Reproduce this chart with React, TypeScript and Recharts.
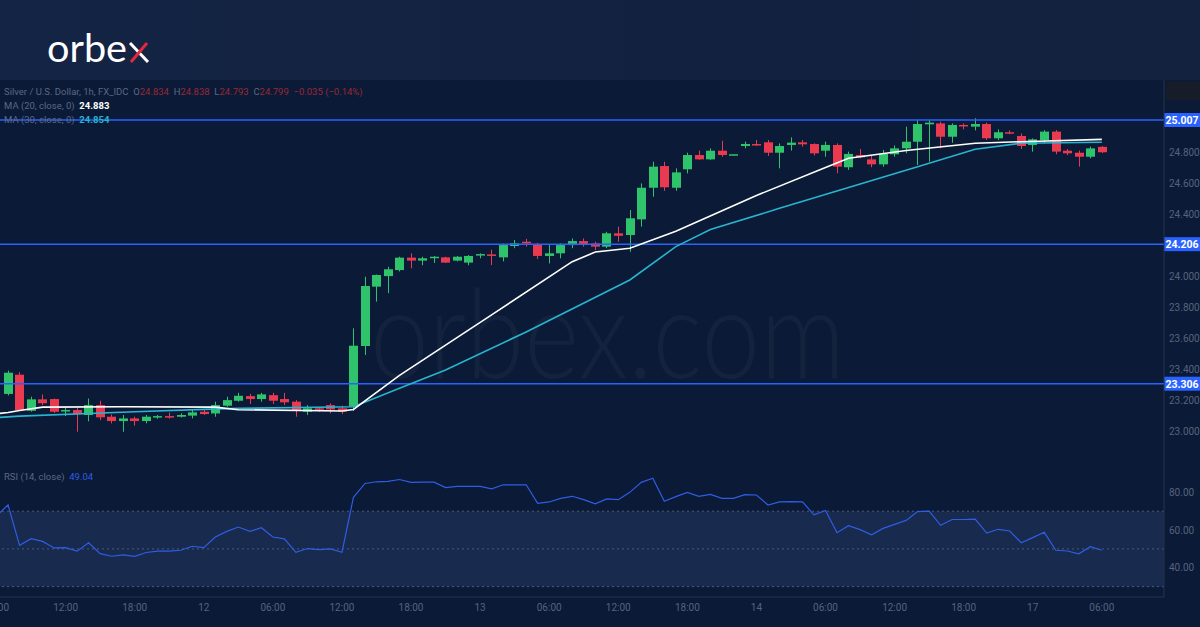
import React from 'react';
import { ComposedChart, Bar, Line, XAxis, YAxis, ReferenceLine, ReferenceArea } from 'recharts';

// hourly candles, index 0 = 11th 07:00
const opens = [
  23.24, 23.364, 23.131, 23.205, 23.207, 23.13, 23.136, 23.104, 23.168, 23.093,
  23.065, 23.082, 23.065, 23.089, 23.097, 23.093, 23.1, 23.125, 23.114, 23.164,
  23.196, 23.226, 23.207, 23.232, 23.207, 23.19, 23.125, 23.147, 23.168, 23.147,
  23.158, 23.549, 23.932, 24.0, 24.039, 24.119, 24.1, 24.118, 24.121, 24.1,
  24.087, 24.136, 24.14, 24.121, 24.194, 24.222, 24.206, 24.13, 24.147, 24.2,
  24.226, 24.211, 24.19, 24.276, 24.265, 24.366, 24.57, 24.71, 24.57, 24.689,
  24.781, 24.753, 24.809, 24.783, 24.839, 24.852, 24.863, 24.796, 24.846, 24.863,
  24.852, 24.809, 24.846, 24.702, 24.781, 24.753, 24.721, 24.786, 24.824, 24.867,
  24.979, 24.985, 24.899, 24.975, 24.964, 24.981, 24.889, 24.928, 24.904, 24.846,
  24.878, 24.932, 24.809, 24.796, 24.77, 24.834,
];
const highs = [
  23.39, 23.38, 23.222, 23.237, 23.21, 23.151, 23.151, 23.21, 23.196, 23.108,
  23.104, 23.093, 23.104, 23.104, 23.12, 23.115, 23.136, 23.136, 23.19, 23.222,
  23.247, 23.24, 23.247, 23.247, 23.247, 23.2, 23.168, 23.157, 23.179, 23.164,
  23.663, 23.996, 24.01, 24.06, 24.125, 24.147, 24.125, 24.13, 24.125, 24.13,
  24.136, 24.147, 24.17, 24.21, 24.233, 24.24, 24.215, 24.2, 24.211, 24.243,
  24.243, 24.222, 24.286, 24.319, 24.426, 24.598, 24.738, 24.738, 24.695, 24.796,
  24.81, 24.824, 24.873, 24.786, 24.867, 24.878, 24.878, 24.856, 24.895, 24.878,
  24.856, 24.867, 24.856, 24.803, 24.82, 24.775, 24.814, 24.842, 24.964, 25.007,
  25.007, 24.996, 24.985, 24.985, 25.018, 24.99, 24.946, 24.94, 24.92, 24.888,
  24.942, 24.942, 24.82, 24.81, 24.835, 24.838,
];
const lows = [
  23.23, 23.13, 23.125, 23.168, 23.117, 23.097, 22.996, 23.063, 23.071, 23.05,
  22.996, 23.035, 23.05, 23.08, 23.08, 23.088, 23.082, 23.104, 23.093, 23.157,
  23.19, 23.175, 23.19, 23.175, 23.168, 23.093, 23.104, 23.125, 23.115, 23.11,
  23.13, 23.491, 23.835, 23.89, 24.03, 24.05, 24.07, 24.085, 24.085, 24.095,
  24.07, 24.115, 24.071, 24.095, 24.18, 24.19, 24.11, 24.082, 24.115, 24.18,
  24.19, 24.168, 24.18, 24.222, 24.157, 24.319, 24.512, 24.55, 24.55, 24.663,
  24.75, 24.75, 24.77, 24.783, 24.824, 24.84, 24.775, 24.695, 24.81, 24.835,
  24.778, 24.77, 24.663, 24.685, 24.76, 24.702, 24.706, 24.77, 24.792, 24.717,
  24.738, 24.824, 24.86, 24.946, 24.94, 24.878, 24.878, 24.915, 24.82, 24.803,
  24.86, 24.786, 24.78, 24.706, 24.76, 24.793,
];
const closes = [
  23.377, 23.136, 23.205, 23.18, 23.125, 23.136, 23.11, 23.168, 23.089, 23.065,
  23.082, 23.065, 23.093, 23.097, 23.089, 23.104, 23.121, 23.11, 23.168, 23.2,
  23.228, 23.207, 23.237, 23.196, 23.186, 23.13, 23.147, 23.14, 23.14, 23.125,
  23.551, 23.936, 24.007, 24.044, 24.119, 24.1, 24.115, 24.125, 24.087, 24.125,
  24.13, 24.142, 24.13, 24.2, 24.211, 24.211, 24.13, 24.147, 24.2, 24.226,
  24.207, 24.19, 24.276, 24.26, 24.373, 24.57, 24.706, 24.573, 24.669, 24.781,
  24.753, 24.809, 24.781, 24.786, 24.852, 24.846, 24.796, 24.839, 24.861, 24.85,
  24.792, 24.846, 24.706, 24.788, 24.766, 24.721, 24.788, 24.824, 24.867, 24.981,
  24.99, 24.899, 24.975, 24.968, 24.981, 24.889, 24.928, 24.922, 24.839, 24.882,
  24.932, 24.803, 24.792, 24.77, 24.824, 24.799,
];

// RSI(14), index -1 .. 95
const rsiValues = [
  67.5,
  73.3, 51.9, 55.4, 54.0, 50.5, 50.7, 48.8, 53.2, 47.5, 46.1,
  46.8, 46.1, 48.1, 48.8, 48.8, 49.3, 51.4, 50.7, 56.3, 59.3,
  61.6, 59.3, 61.2, 56.3, 55.3, 48.2, 50.2, 49.6, 50.0, 48.2,
  77.4, 84.7, 85.6, 85.8, 86.8, 85.3, 85.4, 85.4, 82.5, 83.2,
  83.2, 83.2, 81.9, 84.0, 84.0, 84.0, 74.2, 74.9, 76.8, 77.9,
  76.1, 73.9, 76.5, 76.1, 80.0, 85.3, 87.5, 75.3, 77.7, 80.0,
  77.9, 78.9, 76.8, 76.8, 78.8, 78.6, 73.3, 74.9, 75.1, 74.9,
  68.1, 70.4, 58.6, 62.3, 60.2, 57.5, 60.9, 63.0, 65.1, 69.8,
  70.0, 62.5, 65.6, 65.6, 65.8, 58.4, 60.4, 59.5, 53.3, 56.0,
  58.8, 49.3, 48.9, 47.4, 51.2, 49.3,
];

// moving averages read at anchor candles
const ma20Idx = [-1, 0, 1, 3, 10, 18, 20, 29, 30, 34, 42, 49, 51, 54, 58, 65, 71, 73, 78, 84, 88, 95];
const ma20Val = [23.112, 23.12, 23.133, 23.155, 23.157, 23.155, 23.138, 23.13, 23.14, 23.36, 23.75, 24.093, 24.155, 24.18, 24.29, 24.52, 24.7, 24.76, 24.81, 24.857, 24.867, 24.882];
const ma30Idx = [-1, 1, 11, 17, 20, 30, 34, 38, 45, 54, 58, 61, 67, 79, 84, 88, 95];
const ma30Val = [23.087, 23.097, 23.125, 23.14, 23.147, 23.157, 23.276, 23.394, 23.64, 23.975, 24.19, 24.3, 24.437, 24.706, 24.818, 24.857, 24.863];

const levels = [25.007, 24.206, 23.306];
const priceTicks = [23.0, 23.2, 23.4, 23.6, 23.8, 24.0, 24.4, 24.6, 24.8];
const rsiTicks = [40, 60, 80];
const rsiBands = [70, 50, 30];
const timeTicks = [-1, 5, 11, 17, 23, 29, 35, 41, 47, 53, 59, 65, 71, 77, 83, 89, 95];
const timeLabels = ['06:00', '12:00', '18:00', '12', '06:00', '12:00', '18:00', '13', '06:00', '12:00', '18:00', '14', '06:00', '12:00', '18:00', '17', '06:00'];

const GREEN = '#2fc46c';
const RED = '#e93a4f';
const BLUE = '#2962ff';
const AXIS_TEXT = '#56637f';
const FONT = 'Roboto, "Open Sans", sans-serif';

const data = rsiValues.map((r, k) => {
  const i = k - 1;
  const a = ma20Idx.indexOf(i);
  const b = ma30Idx.indexOf(i);
  return {
    i,
    o: i >= 0 ? opens[i] : null,
    h: i >= 0 ? highs[i] : null,
    l: i >= 0 ? lows[i] : null,
    c: i >= 0 ? closes[i] : null,
    rsi: r,
    ma20: a >= 0 ? ma20Val[a] : null,
    ma30: b >= 0 ? ma30Val[b] : null,
  };
});

const Candle = (props: any) => {
  const { x, y, width, height, payload } = props;
  if (!payload || payload.h == null) return null;
  const { o, h, l, c } = payload;
  const top0 = Math.min(y, y + height);
  const hh = Math.abs(height);
  const span = h - l || 0.0001;
  const py = (p: number) => top0 + ((h - p) / span) * hh;
  const color = c >= o ? GREEN : RED;
  const cx = Math.round(x + width / 2) + 0.5;
  const bt = py(Math.max(o, c));
  const bb = py(Math.min(o, c));
  return (
    <g>
      <line x1={cx} x2={cx} y1={top0} y2={top0 + hh} stroke={color} strokeWidth={1} />
      <rect x={cx - 4.5} y={bt} width={9} height={Math.max(1.5, bb - bt)} fill={color} />
    </g>
  );
};

const LevelLabel = (props: any) => {
  const { viewBox, text } = props;
  const x = viewBox.x + viewBox.width;
  const y = viewBox.y;
  return (
    <g>
      <rect x={x} y={y - 7} width={36} height={14} fill={BLUE} />
      <text x={x + 18} y={y + 4} textAnchor="middle" fill="#fff" fontSize={10.5} fontWeight={700} fontFamily={FONT}>
        {text}
      </text>
    </g>
  );
};

export default function App() {
  return (
    <div style={{ position: 'absolute', left: 0, top: 0, width: 1200, height: 627, overflow: 'hidden', background: '#0b1a36', fontFamily: FONT }}>
      <div style={{ position: 'absolute', left: 0, top: 0, width: 1200, height: 80, background: 'linear-gradient(90deg, #142444 0%, #12213f 60%, #13223f 100%)' }} />
      <svg width={1200} height={627} style={{ position: 'absolute', left: 0, top: 0 }}>
        <text x={370} y={378} fontSize={125} fontFamily="Lato, sans-serif" fontWeight={300} fill="#ffffff" fillOpacity={0.035} textLength={475} lengthAdjust="spacingAndGlyphs">
          orbex.com
        </text>
        <text x={47} y={61.5} fontSize={38} fontFamily="Lato, sans-serif" fill="#ffffff" textLength={80} lengthAdjust="spacingAndGlyphs">
          orbe
        </text>
        <line x1={130} y1={43} x2={148} y2={62} stroke="#ffffff" strokeWidth={3} />
        <line x1={147} y1={43} x2={131} y2={62} stroke="#e5283c" strokeWidth={3} />
      </svg>

      <div style={{ position: 'absolute', left: 0, top: 80 }}>
        <ComposedChart width={1200} height={375} data={data} margin={{ top: 0, right: 0, bottom: 0, left: 0 }}>
          <XAxis type="number" dataKey="i" domain={[-0.7, 100.4]} allowDataOverflow hide />
          <YAxis
            orientation="right"
            width={36}
            domain={[22.846, 25.265]}
            allowDataOverflow
            ticks={priceTicks}
            tickFormatter={(v: number) => v.toFixed(3)}
            tick={{ fill: AXIS_TEXT, fontSize: 10 }}
            tickLine={false}
            tickSize={0}
            tickMargin={5}
            axisLine={{ stroke: '#26334f' }}
          />
          {levels.map((v) => (
            <ReferenceLine key={v} y={v} stroke={BLUE} strokeWidth={1.5} label={<LevelLabel text={v.toFixed(3)} />} />
          ))}
          <Bar dataKey={(d: any) => (d.h == null ? null : [d.l, d.h])} barSize={9} shape={<Candle />} isAnimationActive={false} />
          <Line type="linear" dataKey="ma30" stroke="#29b4cf" strokeWidth={1.6} dot={false} connectNulls isAnimationActive={false} />
          <Line type="linear" dataKey="ma20" stroke="#ffffff" strokeWidth={1.6} dot={false} connectNulls isAnimationActive={false} />
        </ComposedChart>
      </div>

      <div style={{ position: 'absolute', left: 0, top: 455 }}>
        <ComposedChart width={1200} height={172} data={data} margin={{ top: 0, right: 0, bottom: 0, left: 0 }}>
          <XAxis
            type="number"
            dataKey="i"
            domain={[-0.7, 100.4]}
            allowDataOverflow
            ticks={timeTicks}
            interval={0}
            tickFormatter={(v: number) => timeLabels[timeTicks.indexOf(v)] ?? ''}
            tick={{ fill: AXIS_TEXT, fontSize: 10 }}
            tickLine={false}
            tickSize={0}
            tickMargin={7}
            height={30}
            axisLine={{ stroke: '#26334f' }}
          />
          <YAxis
            orientation="right"
            width={36}
            domain={[24.5, 99.8]}
            allowDataOverflow
            ticks={rsiTicks}
            tickFormatter={(v: number) => v.toFixed(2)}
            tick={{ fill: AXIS_TEXT, fontSize: 10 }}
            tickLine={false}
            tickSize={0}
            tickMargin={5}
            axisLine={{ stroke: '#26334f' }}
          />
          <ReferenceArea y1={30} y2={70} fill="#182a4e" fillOpacity={1} stroke="none" />
          {rsiBands.map((v) => (
            <ReferenceLine key={v} y={v} stroke="#4a5a7d" strokeDasharray="2 3" />
          ))}
          <Line type="linear" dataKey="rsi" stroke="#2f5de3" strokeWidth={1.2} dot={false} isAnimationActive={false} />
        </ComposedChart>
      </div>

      <div style={{ position: 'absolute', left: 1166, top: 82, width: 34, height: 18, background: '#161c28' }} />

      <div style={{ position: 'absolute', left: 4, top: 85, fontSize: 9.5, color: '#5c6884', whiteSpace: 'nowrap', lineHeight: '14px' }}>
        <div>
          Silver / U.S. Dollar, 1h, FX_IDC&nbsp;&nbsp;O<span style={{ color: '#9a2837' }}>24.834</span>&nbsp;&nbsp;H<span style={{ color: '#9a2837' }}>24.838</span>&nbsp;&nbsp;L<span style={{ color: '#9a2837' }}>24.793</span>&nbsp;&nbsp;C<span style={{ color: '#9a2837' }}>24.799</span>&nbsp;&nbsp;<span style={{ color: '#9a2837' }}>−0.035 (−0.14%)</span>
        </div>
        <div>
          MA (20, close, 0)&nbsp;&nbsp;<span style={{ color: '#ffffff', fontWeight: 700 }}>24.883</span>
        </div>
        <div>
          MA (30, close, 0)&nbsp;&nbsp;<span style={{ color: '#29b4cf', fontWeight: 700 }}>24.854</span>
        </div>
      </div>

      <div style={{ position: 'absolute', left: 4, top: 471, fontSize: 9.5, color: '#5c6884', whiteSpace: 'nowrap' }}>
        RSI (14, close)&nbsp;&nbsp;<span style={{ color: '#2f5de3' }}>49.04</span>
      </div>
    </div>
  );
}
